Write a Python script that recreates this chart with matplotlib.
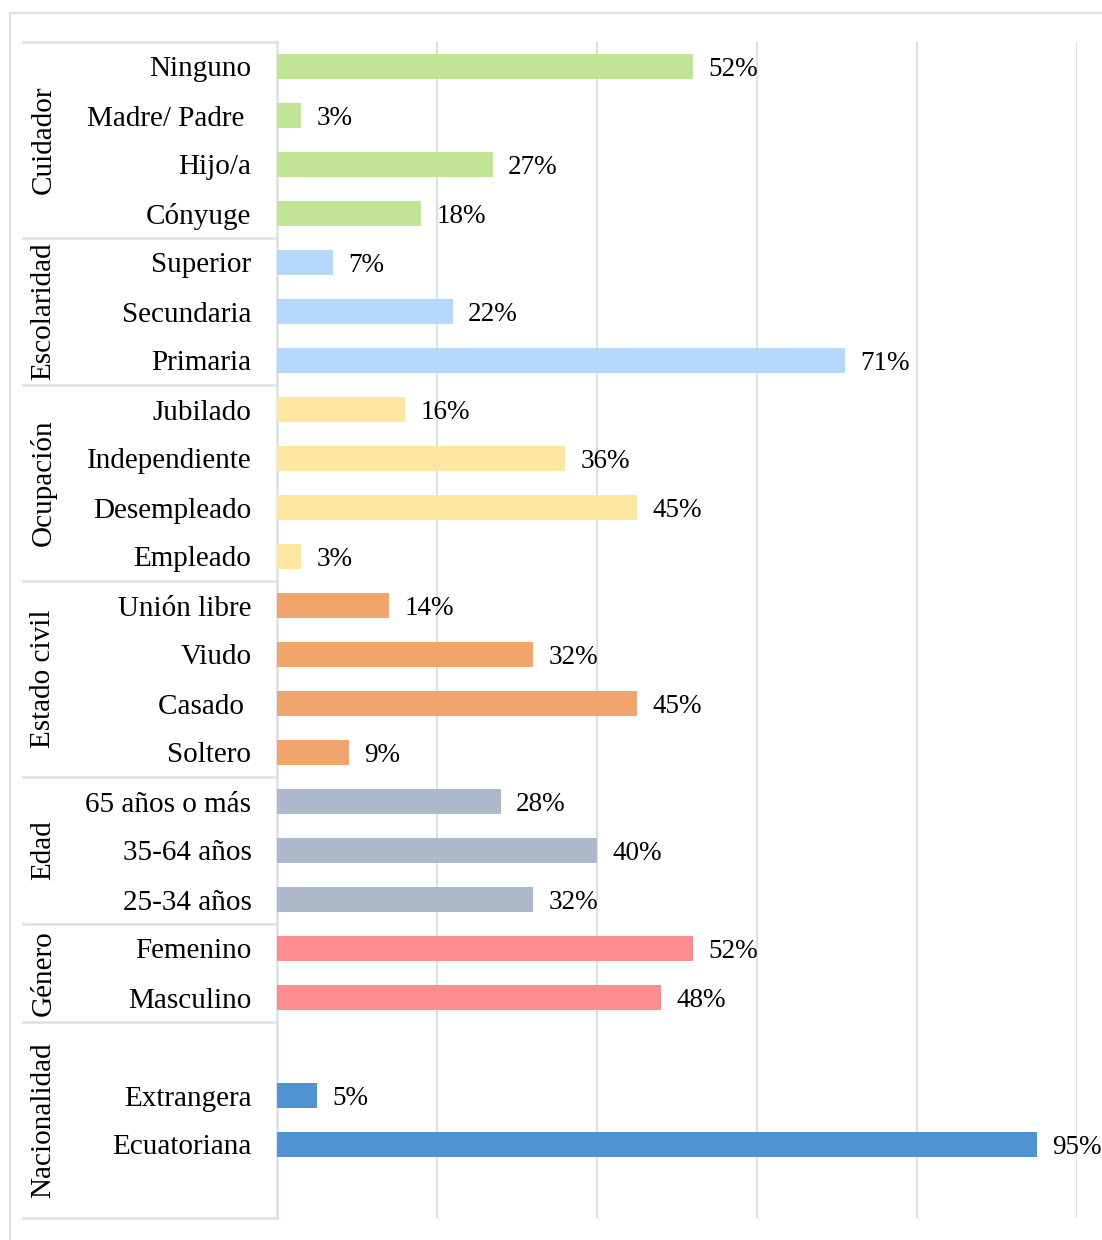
import matplotlib.pyplot as plt
from matplotlib.patches import Rectangle

plt.rcParams['font.family'] = ['Liberation Serif', 'DejaVu Serif']

# groups, top to bottom; None = empty row
grupos = ['Cuidador', 'Escolaridad', 'Ocupación', 'Estado civil', 'Edad', 'Género', 'Nacionalidad']
etiquetas = [
    ['Ninguno', 'Madre/ Padre ', 'Hijo/a', 'Cónyuge'],
    ['Superior', 'Secundaria', 'Primaria'],
    ['Jubilado', 'Independiente', 'Desempleado', 'Empleado'],
    ['Unión libre', 'Viudo', 'Casado ', 'Soltero'],
    ['65 años o más', '35-64 años', '25-34 años'],
    ['Femenino', 'Masculino'],
    [None, 'Extrangera', 'Ecuatoriana', None],
]
valores = [
    [52, 3, 27, 18],
    [7, 22, 71],
    [16, 36, 45, 3],
    [14, 32, 45, 9],
    [28, 40, 32],
    [52, 48],
    [None, 5, 95, None],
]
colores = ['#C1E497', '#B6D8FC', '#FFE6A1', '#F1A56D', '#ADB9CB', '#FF8C8F', '#4F94D0']
borde = '#DCE1E8'

W, H = 1102, 1240
fig = plt.figure(figsize=(W / 100, H / 100), dpi=100)
ax = fig.add_axes([277 / W, 1 - 1218 / H, 800 / W, 1176 / H])

nfilas = sum(len(g) for g in etiquetas)
ax.set_xlim(0, 100)
ax.set_ylim(nfilas - 0.5, -0.5)

fila = 0
limites = [-0.5]
for g, (labs, vals) in enumerate(zip(etiquetas, valores)):
    ini = fila
    for lab, v in zip(labs, vals):
        if v is not None:
            ax.barh(fila, v, height=0.5, color=colores[g], zorder=3)
            ax.text(v + 1.9, fila, f'{v}%', va='center_baseline', ha='left', fontsize=19.5, zorder=4)
            ax.text(-3.2, fila, lab, va='center_baseline', ha='right', fontsize=21)
        fila += 1
    ax.text(-29.2, (ini + fila - 1) / 2, grupos[g], rotation=90, va='center', ha='center', fontsize=21)
    limites.append(fila - 0.5)

# category table lines
for b in limites:
    ax.plot([-31.8, 0], [b, b], color=borde, lw=1.8, clip_on=False)
ax.plot([0, 0], [-0.5, nfilas - 0.5], color=borde, lw=1.8, clip_on=False, zorder=2)

for x in [20, 40, 60, 80, 100]:
    ax.axvline(x, color=borde, lw=1.6, zorder=1)

for s in ax.spines.values():
    s.set_visible(False)
ax.set_xticks([])
ax.set_yticks([])

# outer frame
fig.patches.append(Rectangle((9.5 / W, -0.1), 1.2, 1 - 12.5 / H + 0.1, transform=fig.transFigure,
                             fill=False, edgecolor=borde, lw=1.5))

fig.savefig('out.png', dpi=100)
